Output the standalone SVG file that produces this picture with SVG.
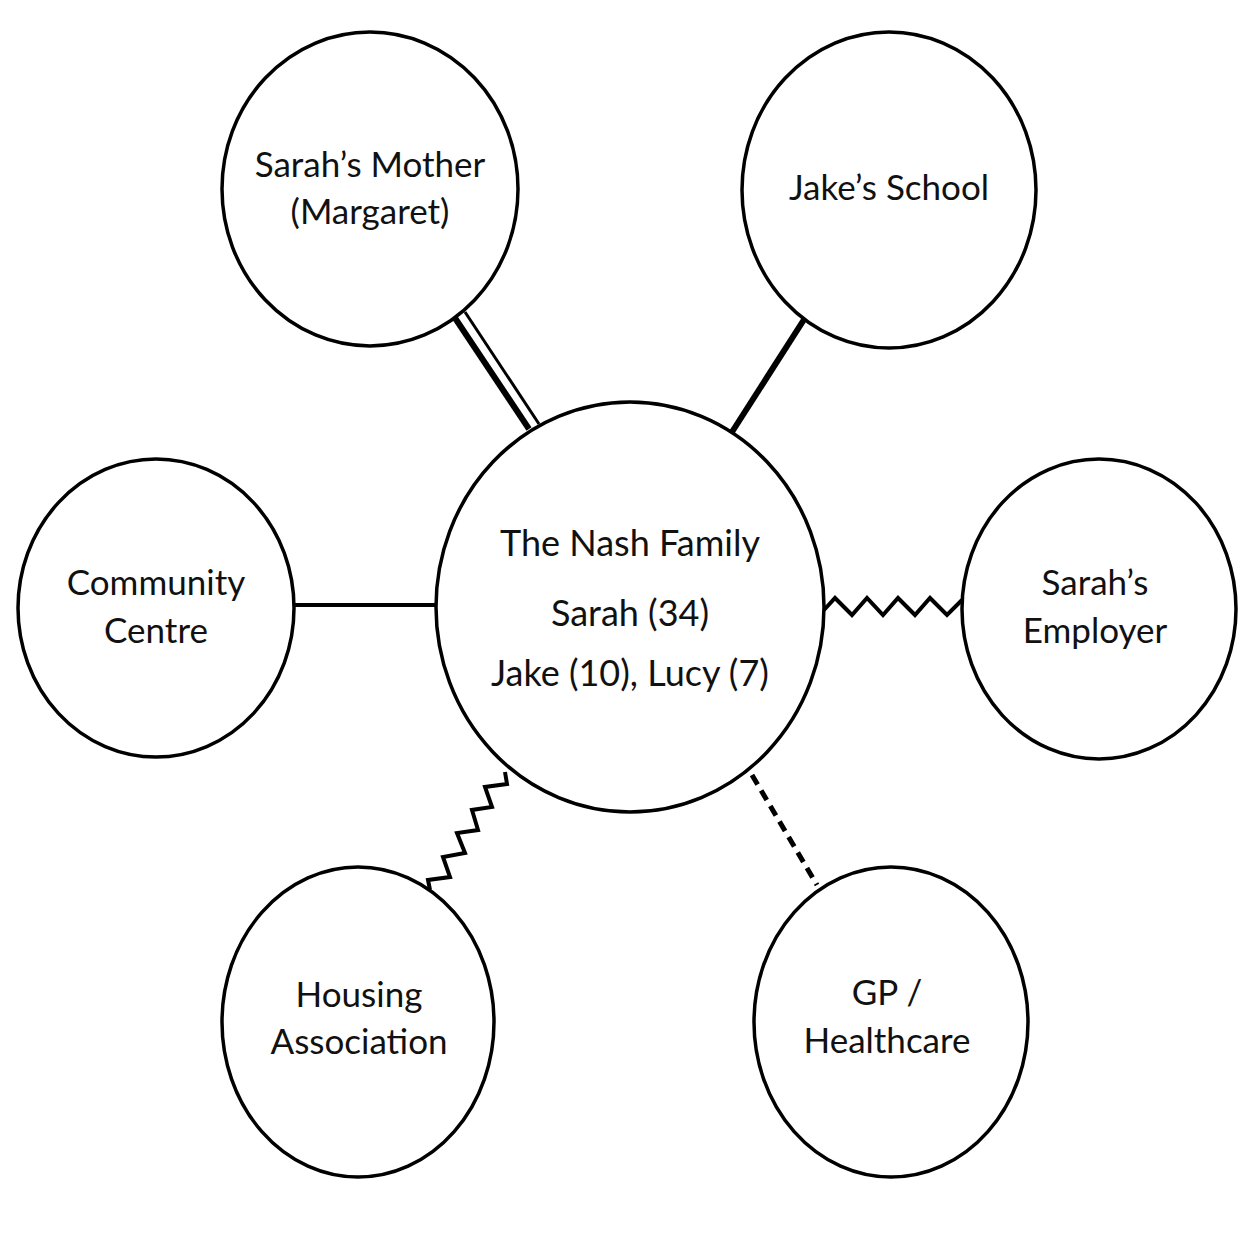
<svg xmlns="http://www.w3.org/2000/svg" width="1254" height="1254" viewBox="0 0 1254 1254">
<style>
.node{fill:#fff;stroke:#000;stroke-width:3.5}
.lbl{font-family:Lato,"Noto Sans",sans-serif;font-size:35px;fill:#111;text-anchor:middle}
.big{font-size:36px}
.c{fill:none;stroke:#000;stroke-linejoin:miter}
</style>
<rect width="1254" height="1254" fill="#fff"/>
<g id="connectors">
<line class="c" x1="455" y1="318" x2="529" y2="429" stroke-width="6"/>
<line class="c" x1="465" y1="312" x2="539" y2="424" stroke-width="3"/>
<line class="c" x1="805" y1="318" x2="732" y2="432" stroke-width="6"/>
<line class="c" x1="295" y1="605" x2="436" y2="605" stroke-width="4"/>
<polyline class="c" stroke-width="4" points="824,610 835,598 852,615 867,598 883,615 898,598 915,615 930,598 947,615 962,600"/>
<polyline class="c" stroke-width="4" points="430,890 428,880 450,877 443,857 465,853 457,833 478,830 472,810 492,807 485,787 507,784 505,772"/>
<line class="c" x1="752" y1="775" x2="817" y2="885" stroke-width="5" stroke-dasharray="11,7"/>
</g>
<g id="mother"><ellipse class="node" cx="370" cy="189" rx="148" ry="157"/>
<text class="lbl" x="370" y="177">Sarah’s Mother</text><text class="lbl" x="370" y="224">(Margaret)</text></g>
<g id="school"><ellipse class="node" cx="889" cy="190" rx="147" ry="158"/>
<text class="lbl" x="889" y="200">Jake’s School</text></g>
<g id="community"><ellipse class="node" cx="156" cy="608" rx="138" ry="149"/>
<text class="lbl" x="156" y="595">Community</text><text class="lbl" x="156" y="643">Centre</text></g>
<g id="employer"><ellipse class="node" cx="1099" cy="609" rx="137" ry="150"/>
<text class="lbl" x="1095" y="595">Sarah’s</text><text class="lbl" x="1095" y="643">Employer</text></g>
<g id="housing"><ellipse class="node" cx="358" cy="1022" rx="136" ry="155"/>
<text class="lbl" x="359" y="1007">Housing</text><text class="lbl" x="359" y="1054">Association</text></g>
<g id="gp"><ellipse class="node" cx="891" cy="1022" rx="137" ry="155"/>
<text class="lbl" x="887" y="1005">GP /</text><text class="lbl" x="887" y="1053">Healthcare</text></g>
<g id="family"><ellipse class="node" cx="630" cy="607" rx="194" ry="205"/>
<text class="lbl big" x="630" y="556">The Nash Family</text>
<text class="lbl big" x="630" y="626">Sarah (34)</text>
<text class="lbl big" x="630" y="686">Jake (10), Lucy (7)</text></g>
</svg>
